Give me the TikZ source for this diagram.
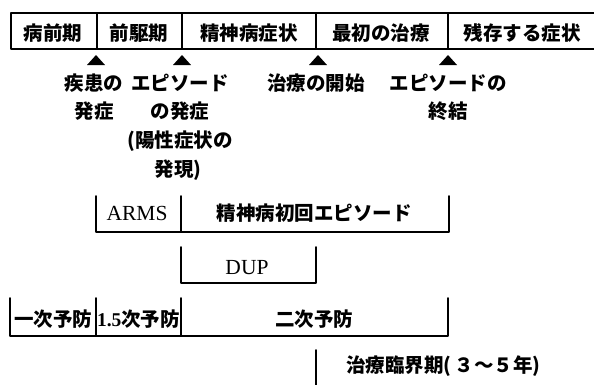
\documentclass[tikz,border=0pt]{standalone}
\usepackage{fontspec}
\setmainfont{Liberation Serif}
\newfontfamily\jp{Noto Sans CJK JP}
\begin{document}
\begin{tikzpicture}[x=1pt,y=-1pt,
  ln/.style={line width=1.6pt,line cap=round,line join=round},
  jt/.style={font=\jp\bfseries\fontsize{19.5}{20}\selectfont,anchor=base,inner sep=0pt},
  rt/.style={font=\fontsize{21.5}{22}\selectfont,anchor=base,inner sep=0pt},
  tri/.style={fill=black}]
\useasboundingbox (0,0) rectangle (594,384);
% top box
\coordinate (b0) at (11,13);
\coordinate (b1) at (600,49);
\draw[ln] (600,13) -- (b0) -- (11,49) -- (600,49);
\draw[ln] (97,13) -- (97,49);
\draw[ln] (182,13) -- (182,49);
\draw[ln] (316,13) -- (316,49);
\draw[ln] (448,13) -- (448,49);
\node[jt] (c1) at (53,40.5) {病前期};
\node[jt] (c2) at (139,40.5) {前駆期};
\node[jt] (c3) at (249,40.5) {精神病症状};
\node[jt] (c4) at (381,40.5) {最初の治療};
\node[jt] (c5) at (522,40.5) {残存する症状};
% triangles
\fill[tri] (96,55) -- (87,65) -- (105,65) -- cycle;
\fill[tri] (182,55) -- (173,65) -- (191,65) -- cycle;
\fill[tri] (318,55) -- (309,65) -- (327,65) -- cycle;
\fill[tri] (448,55) -- (439,65) -- (457,65) -- cycle;
% labels
\node[jt] (l1a) at (94,90.5) {疾患の};
\node[jt] (l1b) at (94,118.5) {発症};
\node[jt] (l2a) at (180,90.5) {エピソード};
\node[jt] (l2b) at (180,118.5) {の発症};
\node[jt] (l2c) at (180,147.5) {(陽性症状の};
\node[jt] (l2d) at (178,176.5) {発現)};
\node[jt] (l3a) at (316,90.5) {治療の開始};
\node[jt] (l4a) at (448,90.5) {エピソードの};
\node[jt] (l4b) at (448,118.5) {終結};
% ARMS row
\draw[ln] (96,196) -- (96,232) -- (449,232) -- (449,196);
\draw[ln] (181,196) -- (181,232);
\node[rt] (arms) at (137,220) {ARMS};
\node[jt] (fep) at (314,220.5) {精神病初回エピソード};
% DUP row
\draw[ln] (181,247) -- (181,283) -- (316,283) -- (316,247);
\node[rt] (dup) at (247,274) {DUP};
% prevention row
\draw[ln] (10,298) -- (10,336) -- (448,336) -- (448,298);
\draw[ln] (96,298) -- (96,336);
\draw[ln] (181,298) -- (181,336);
\node[jt] (p1) at (53,326.5) {一次予防};
\node[jt] (p2) at (138.5,326.5) {{\fontspec{Liberation Serif}\fontsize{19.5}{20}\selectfont 1.5}次予防};
\node[jt] (p3) at (314,326.5) {二次予防};
% critical period
\coordinate (k0) at (316,350);
\coordinate (k1) at (316,390);
\draw[ln] (k0) -- (k1);
\node[jt,anchor=base west] (crit) at (346,372.5) {治療臨界期(\,３～５年)};
\end{tikzpicture}
\end{document}
